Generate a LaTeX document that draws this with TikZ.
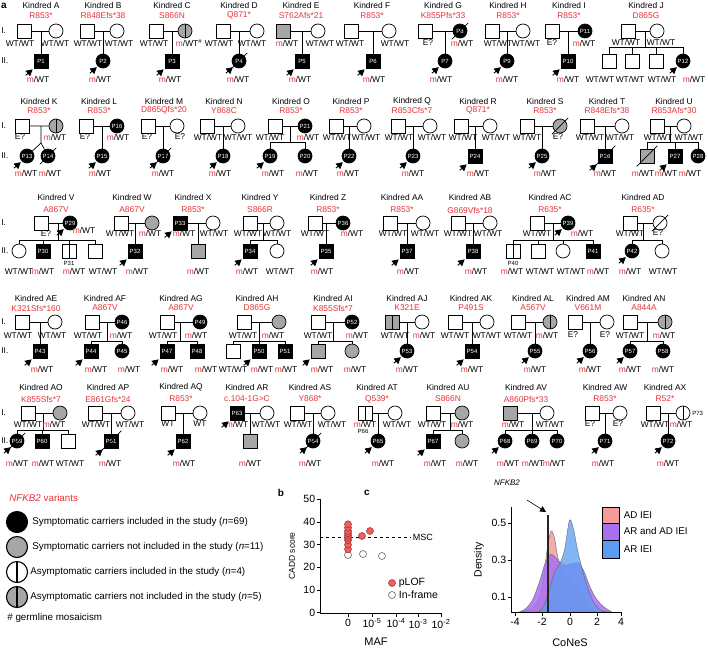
\documentclass[tikz,border=0pt]{standalone}
\usepackage{fontspec}
\setmainfont{Liberation Sans}
\setsansfont{Liberation Sans}
\usetikzlibrary{arrows.meta}
\definecolor{cred}{HTML}{E53238}
\definecolor{cgrey}{HTML}{A6A6A6}
\definecolor{cdot}{HTML}{E8605F}
\definecolor{cpink}{HTML}{F49C9C}
\definecolor{cpurple}{HTML}{A870F0}
\definecolor{cblue}{HTML}{5A9CF2}
\newcommand{\pedfont}{\fontsize{8.4}{9}\selectfont}
\newcommand{\pidfont}{\fontsize{6}{6}\selectfont}
\newcommand{\mwt}{\textcolor{cred}{m}/WT}
\newcounter{gtc}
\newcommand{\gtx}[3]{\stepcounter{gtc}\node[gt] (t\arabic{gtc}) at (#1,#2) {#3};}
\newcommand{\kindred}[3]{\node[kin] (k#1) at (#2,\yk) {Kindred #1}; \node[var] (v#1) at (#2,\yv) {#3};}
\newcommand{\trio}[1]{\draw (#11) -- (#12) (#13) -- (#13 |- #11);}
\newcommand{\sibs}[4]{%
  \coordinate (#10) at (#2,\ys);
  \draw (#11) -- (#12) (#10 |- #11) -- (#10) (#1#3 |- #10) -- (#1#4 |- #10);
  \foreach \ch in {#3,...,#4} \draw (#1\ch) -- (#1\ch |- #10);}
\newcommand{\dead}[1]{\draw ([shift={(-3pt,-3pt)}]#1.south west) -- ([shift={(3pt,3pt)}]#1.north east);}
\newcommand{\proband}[1]{\draw[pb] ([shift={(-8pt,-7pt)}]#1.south west) -- ([shift={(-1pt,-1pt)}]#1.south west);}
\tikzset{
  every picture/.style={line width=0.7pt},
  sq/.style={draw, rectangle, minimum size=14pt, inner sep=0pt, fill=white, font=\pidfont},
  ci/.style={draw, circle, minimum size=14pt, inner sep=0pt, fill=white, font=\pidfont},
  aff/.style={fill=black, text=white},
  ns/.style={fill=cgrey},
  car/.style={path picture={\draw (path picture bounding box.north) -- (path picture bounding box.south);}},
  kin/.style={font=\pedfont, inner sep=0pt},
  var/.style={font=\pedfont, text=cred, inner sep=0pt},
  gt/.style={font=\pedfont, inner sep=0pt},
  tag/.style={font=\pidfont, inner sep=0pt},
  gen/.style={font=\pedfont, inner sep=0pt, anchor=west},
  pb/.style={-{Triangle[length=6.5pt, width=7pt]}, line width=0.9pt},
  panel/.style={font=\fontsize{10}{10}\selectfont\bfseries, inner sep=0pt},
  lgd/.style={draw, circle, minimum size=21pt, inner sep=0pt, line width=1.1pt},
  ltext/.style={font=\fontsize{9.8}{10}\selectfont, anchor=west, inner sep=0pt},
  axis/.style={font=\fontsize{10.5}{11}\selectfont, inner sep=1.5pt},
  pnt/.style={circle, draw=cred!75!black, fill=cdot, minimum size=7pt, inner sep=0pt, line width=0.5pt},
  pnto/.style={circle, draw=black!70, fill=white, minimum size=7pt, inner sep=0pt, line width=0.5pt},
  dens/.style={draw=black!60, line width=0.4pt, fill opacity=0.85},
}

\begin{document}
\begin{tikzpicture}[x=1pt, y=-1pt]
  \useasboundingbox (0,0) rectangle (708,648);
  \node[panel] (pa) at (4,6) {a};

  % row 1
  \def\yk{5}\def\yv{15.5}\def\yI{31}\def\yg{43}\def\ys{47}\def\yII{61}\def\yh{79}
  \node[gen] (r1a) at (1,\yI) {I.};
  \node[gen] (r1b) at (1,\yII) {II.};
  % Kindred A
  \kindred{A}{41}{R853*}
  \node[sq] (A1) at (24,\yI) {};
  \node[ci] (A2) at (56,\yI) {};
  \node[sq, aff] (A3) at (41,\yII) {P1};
  \trio{A}
  \gtx{20}{\yg}{WT/WT} \gtx{55}{\yg}{WT/WT} \gtx{38}{\yh}{\mwt}
  \proband{A3}
  % Kindred B
  \kindred{B}{103}{R848Efs*38}
  \node[sq] (B1) at (87,\yI) {};
  \node[ci] (B2) at (117,\yI) {};
  \node[ci, aff] (B3) at (103,\yII) {P2};
  \trio{B}
  \gtx{88}{\yg}{WT/WT} \gtx{119}{\yg}{WT/WT} \gtx{100}{\yh}{\mwt}
  \proband{B3}
  % Kindred C
  \kindred{C}{172}{S866N}
  \node[sq] (C1) at (156,\yI) {};
  \node[ci, ns, car] (C2) at (185,\yI) {};
  \node[sq, aff] (C3) at (172,\yII) {P3};
  \trio{C}
  \gtx{154}{\yg}{WT/WT} \gtx{189}{\yg}{\mwt\textsuperscript{\#}} \gtx{170}{\yh}{\mwt}
  \proband{C3}
  % Kindred D
  \kindred{D}{239}{Q871*}
  \node[sq] (D1) at (223,\yI) {};
  \node[ci] (D2) at (257,\yI) {};
  \node[ci, aff] (D3) at (239,\yII) {P4};
  \trio{D}
  \dead{D3}
  \gtx{219}{\yg}{WT/WT} \gtx{252}{\yg}{WT/WT} \gtx{238}{\yh}{\mwt}
  \proband{D3}
  % Kindred E
  \kindred{E}{301}{S762Afs*21}
  \node[sq, ns] (E1) at (283,\yI) {};
  \node[ci] (E2) at (318,\yI) {};
  \node[sq, aff] (E3) at (302,\yII) {P5};
  \trio{E}
  \gtx{287}{\yg}{\mwt} \gtx{320}{\yg}{WT/WT} \gtx{300}{\yh}{\mwt}
  \proband{E3}
  % Kindred F
  \kindred{F}{372}{R853*}
  \node[sq] (F1) at (351,\yI) {};
  \node[ci] (F2) at (389,\yI) {};
  \node[sq, aff] (F3) at (373,\yII) {P6};
  \trio{F}
  \gtx{350}{\yg}{WT/WT} \gtx{395}{\yg}{WT/WT} \gtx{374}{\yh}{\mwt}
  \proband{F3}
  % Kindred G
  \kindred{G}{443}{K855Pfs*33}
  \node[sq] (G1) at (425,\yI) {};
  \node[ci, aff] (G2) at (460,\yI) {P8};
  \node[ci, aff] (G3) at (445,\yII) {P7};
  \trio{G}
  \dead{G2}
  \gtx{428}{\yg}{E?} \gtx{462}{\yg}{\mwt} \gtx{441}{\yh}{\mwt}
  \proband{G3}
  % Kindred H
  \kindred{H}{508}{R853*}
  \node[sq] (H1) at (492,\yI) {};
  \node[ci] (H2) at (523,\yI) {};
  \node[ci, aff] (H3) at (507,\yII) {P9};
  \trio{H}
  \gtx{498}{\yg}{WT/WT} \gtx{526}{\yg}{WT/WT} \gtx{507}{\yh}{\mwt}
  \proband{H3}
  % Kindred I
  \kindred{I}{569}{R853*}
  \node[sq] (I1) at (552,\yI) {};
  \node[ci, aff] (I2) at (585,\yI) {P11};
  \node[sq, aff] (I3) at (568,\yII) {P10};
  \trio{I}
  \gtx{552}{\yg}{E?} \gtx{584}{\yg}{\mwt} \gtx{568}{\yh}{\mwt}
  \proband{I3}
  % Kindred J
  \kindred{J}{646}{D865G}
  \node[sq] (J1) at (628,\yI) {};
  \node[ci] (J2) at (657,\yI) {};
  \node[sq] (J3) at (609,\yII) {};
  \node[sq] (J4) at (632,\yII) {};
  \node[sq] (J5) at (656,\yII) {};
  \node[ci, aff] (J6) at (683,\yII) {P12};
  \sibs{J}{645}{3}{6}
  \gtx{626}{\yg-1}{WT/WT} \gtx{661}{\yg-1}{WT/WT}
  \gtx{600}{\yh}{WT/WT} \gtx{630}{\yh}{WT/WT} \gtx{662}{\yh}{WT/WT} \gtx{694}{\yh}{\mwt}
  \proband{J6}

  % row 2
  \def\yk{101}\def\yv{110.5}\def\yI{126}\def\yg{137}\def\ys{142}\def\yII{156}\def\yh{173}
  \node[gen] (r2a) at (1,\yI) {I.};
  \node[gen] (r2b) at (1,\yII) {II.};
  % Kindred K
  \kindred{K}{39}{R853*}
  \node[sq] (K1) at (22,\yI) {};
  \node[ci, ns, car] (K2) at (56,\yI) {};
  \node[ci, aff] (K3) at (27,\yII) {P13};
  \node[ci, aff] (K4) at (48,\yII) {P14};
  \coordinate (K0) at (41,143);
  \draw (K1) -- (K2) (K0 |- K1) -- (K0) -- (K3) (K0) -- (K4);
  \dead{K4}
  \gtx{20}{\yg}{E?} \gtx{55}{\yg}{\mwt} \gtx{26}{\yh}{\mwt} \gtx{50}{\yh}{\mwt}
  \proband{K3}
  % Kindred L
  \kindred{L}{99}{R853*}
  \node[sq] (L1) at (86,\yI) {};
  \node[ci, aff] (L2) at (117,\yI) {P16};
  \node[ci, aff] (L3) at (102,\yII) {P15};
  \trio{L}
  \gtx{85}{\yg}{E?} \gtx{118}{\yg}{\mwt} \gtx{100}{\yh}{\mwt}
  \proband{L3}
  % Kindred M
  \kindred{M}{164}{D865Qfs*20}
  \node[sq] (M1) at (148,\yI) {};
  \node[ci] (M2) at (177,\yI) {};
  \node[ci, aff] (M3) at (163,\yII) {P17};
  \trio{M}
  \dead{M3}
  \gtx{147}{\yg}{E?} \gtx{180}{\yg}{E?} \gtx{163}{\yh}{\mwt}
  \proband{M3}
  % Kindred N
  \kindred{N}{224}{Y868C}
  \node[sq] (N1) at (207,\yI) {};
  \node[ci] (N2) at (238,\yI) {};
  \node[ci, aff] (N3) at (223,\yII) {P18};
  \trio{N}
  \gtx{208}{\yg}{WT/WT} \gtx{238}{\yg}{WT/WT} \gtx{220}{\yh}{\mwt}
  \proband{N3}
  % Kindred O
  \kindred{O}{291}{R853*}
  \node[sq] (O1) at (275,\yI) {};
  \node[ci, aff] (O2) at (305,\yI) {P21};
  \node[ci, aff] (O3) at (270,\yII) {P19};
  \node[ci, aff] (O4) at (305,\yII) {P20};
  \sibs{O}{290}{3}{4}
  \gtx{270}{\yg}{WT/WT} \gtx{308}{\yg}{\mwt} \gtx{273}{\yh}{\mwt} \gtx{307}{\yh}{\mwt}
  \proband{O3}
  % Kindred P
  \kindred{P}{351}{R853*}
  \node[sq] (P1) at (336,\yI) {};
  \node[ci] (P2) at (364,\yI) {};
  \node[ci, aff] (P3) at (349,\yII) {P22};
  \trio{P}
  \gtx{337}{\yg}{WT/WT} \gtx{366}{\yg}{WT/WT} \gtx{348}{\yh}{\mwt}
  \proband{P3}
  % Kindred Q
  \kindred{Q}{412}{R853Cfs*7}
  \node[sq] (Q1) at (398,\yI) {};
  \node[ci] (Q2) at (430,\yI) {};
  \node[ci, aff] (Q3) at (413,\yII) {P23};
  \trio{Q}
  \gtx{399}{\yg}{WT/WT} \gtx{432}{\yg}{WT/WT} \gtx{413}{\yh}{\mwt}
  \proband{Q3}
  % Kindred R
  \kindred{R}{478}{Q871*}
  \node[sq] (R1) at (461,\yI) {};
  \node[ci] (R2) at (490,\yI) {};
  \node[sq, aff] (R3) at (475,\yII) {P24};
  \trio{R}
  \gtx{463}{\yg}{WT/WT} \gtx{496}{\yg}{WT/WT} \gtx{478}{\yh}{\mwt}
  \proband{R3}
  % Kindred S
  \kindred{S}{545}{R853*}
  \node[sq] (S1) at (527,\yI) {};
  \node[ci, ns] (S2) at (560,\yI) {};
  \node[ci, aff] (S3) at (542,\yII) {P25};
  \trio{S}
  \dead{S2}
  \gtx{527}{\yg}{WT/WT} \gtx{558}{\yg}{E?} \gtx{545}{\yh}{\mwt}
  \proband{S3}
  % Kindred T
  \kindred{T}{607}{R848Efs*38}
  \node[sq] (T1) at (587,\yI) {};
  \node[ci] (T2) at (622,\yI) {};
  \node[sq, aff] (T3) at (605,\yII) {P26};
  \trio{T}
  \dead{T3}
  \gtx{590}{\yg}{WT/WT} \gtx{620}{\yg}{WT/WT} \gtx{605}{\yh}{\mwt}
  \proband{T3}
  % Kindred U
  \kindred{U}{674}{R853Afs*30}
  \node[sq] (U1) at (657,\yI) {};
  \node[ci] (U2) at (684,\yI) {};
  \node[sq, ns] (U3) at (647,\yII) {};
  \node[sq, aff] (U4) at (675,\yII) {P27};
  \node[ci, aff] (U5) at (698,\yII) {P28};
  \sibs{U}{670}{3}{5}
  \dead{U3}
  \gtx{658}{\yg}{WT/WT} \gtx{689}{\yg}{WT/WT}
  \gtx{643}{\yh}{\mwt} \gtx{666}{\yh}{\mwt} \gtx{690}{\yh}{\mwt}
  \proband{U4}

  % row 3
  \def\yk{197}\def\yv{210}\def\yI{223}\def\yg{233}\def\ys{240}\def\yII{251}\def\yh{271}
  \node[gen] (r3a) at (1,\yI) {I.};
  \node[gen] (r3b) at (1,\yII) {II.};
  % Kindred V
  \kindred{V}{56}{A867V}
  \node[sq] (V1) at (41,\yI) {};
  \node[ci, aff] (V2) at (70,\yI) {P29};
  \node[ci] (V3) at (19,\yII) {};
  \node[sq, aff] (V4) at (43,\yII) {P30};
  \node[sq, car] (V5) at (69,\yII) {};
  \node[sq] (V6) at (95,\yII) {};
  \sibs{V}{58}{3}{6}
  \node[tag] (V7) at (69,263) {P31};
  \gtx{46}{\yg+1}{E?} \gtx{84}{\yg-3}{\mwt}
  \gtx{19}{\yh}{WT/WT} \gtx{43}{\yh}{\mwt} \gtx{74}{\yh}{\mwt} \gtx{103}{\yh}{WT/WT}
  \proband{V2}
  % Kindred W
  \kindred{W}{132}{A867V}
  \node[sq] (W1) at (121,\yI) {};
  \node[ci, ns] (W2) at (152,\yI) {};
  \node[sq, aff] (W3) at (135,\yII) {P32};
  \trio{W}
  \gtx{120}{\yg}{WT/WT} \gtx{150}{\yg}{\mwt} \gtx{137}{\yh}{\mwt}
  \proband{W3}
  % Kindred X
  \kindred{X}{193}{R853*}
  \node[sq, aff] (X1) at (180,\yI) {P33};
  \node[ci] (X2) at (213,\yI) {};
  \node[sq, ns] (X3) at (198,\yII) {};
  \trio{X}
  \gtx{184}{\yg}{\mwt} \gtx{214}{\yg}{WT/WT} \gtx{198}{\yh}{\mwt}
  \proband{X1}
  % Kindred Y
  \kindred{Y}{260}{S866R}
  \node[sq] (Y1) at (250,\yI) {};
  \node[ci] (Y2) at (277,\yI) {};
  \node[sq, aff] (Y3) at (250,\yII) {P34};
  \node[ci] (Y4) at (277,\yII) {};
  \sibs{Y}{263}{3}{4}
  \gtx{248}{\yg}{WT/WT} \gtx{277}{\yg}{WT/WT} \gtx{247}{\yh}{\mwt} \gtx{280}{\yh}{WT/WT}
  \proband{Y3}
  % Kindred Z
  \kindred{Z}{328}{R853*}
  \node[sq] (Z1) at (315,\yI) {};
  \node[ci, aff] (Z2) at (343,\yI) {P36};
  \node[sq, aff] (Z3) at (326,\yII) {P35};
  \trio{Z}
  \gtx{315}{\yg}{WT/WT} \gtx{352}{\yg}{\mwt} \gtx{322}{\yh}{\mwt}
  \proband{Z3}
  % Kindred AA
  \kindred{AA}{402}{R853*}
  \node[sq] (AA1) at (390,\yI) {};
  \node[ci] (AA2) at (423,\yI) {};
  \node[sq, aff] (AA3) at (407,\yII) {P37};
  \trio{AA}
  \gtx{393}{\yg}{WT/WT} \gtx{425}{\yg}{WT/WT} \gtx{408}{\yh}{\mwt}
  \proband{AA3}
  % Kindred AB
  \kindred{AB}{470}{G869Vfs*18}
  \node[sq] (AB1) at (458,\yI) {};
  \node[ci] (AB2) at (490,\yI) {};
  \node[sq, aff] (AB3) at (473,\yII) {P38};
  \trio{AB}
  \gtx{458}{\yg}{WT/WT} \gtx{488}{\yg}{WT/WT} \gtx{476}{\yh}{\mwt}
  \proband{AB3}
  % Kindred AC
  \kindred{AC}{550}{R635*}
  \node[sq] (AC1) at (537,\yI) {};
  \node[ci, aff] (AC2) at (568,\yI) {P39};
  \node[sq, car] (AC3) at (513,\yII) {};
  \node[sq] (AC4) at (538,\yII) {};
  \node[ci] (AC5) at (563,\yII) {};
  \node[sq, aff] (AC6) at (593,\yII) {P41};
  \sibs{AC}{553}{3}{6}
  \node[tag] (AC7) at (513,263) {P40};
  \gtx{537}{\yg}{WT/WT} \gtx{582}{\yg}{\mwt}
  \gtx{512}{\yh}{\mwt} \gtx{540}{\yh}{WT/WT} \gtx{571}{\yh}{WT/WT} \gtx{598}{\yh}{\mwt}
  \proband{AC2}
  % Kindred AD
  \kindred{AD}{643}{R635*}
  \node[sq] (AD1) at (630,\yI) {};
  \node[ci] (AD2) at (660,\yI) {};
  \node[ci, aff] (AD3) at (632,\yII) {P42};
  \node[ci] (AD4) at (662,\yII) {};
  \sibs{AD}{643}{3}{4}
  \dead{AD2}
  \gtx{630}{\yg}{WT/WT} \gtx{658}{\yg}{E?} \gtx{630}{\yh}{\mwt} \gtx{663}{\yh}{WT/WT}
  \proband{AD3}

  % row 4
  \def\yk{298}\def\yv{308}\def\yI{322}\def\yg{335}\def\ys{341}\def\yII{351}\def\yh{369}
  \node[gen] (r4a) at (1,\yI) {I.};
  \node[gen] (r4b) at (1,\yII) {II.};
  % Kindred AE
  \kindred{AE}{36}{K321Sfs*160}
  \node[sq] (AE1) at (22,\yI) {};
  \node[ci] (AE2) at (55,\yI) {};
  \node[sq, aff] (AE3) at (40,\yII) {P43};
  \trio{AE}
  \gtx{18}{\yg}{WT/WT} \gtx{52}{\yg}{WT/WT} \gtx{42}{\yh}{\mwt}
  \proband{AE3}
  % Kindred AF
  \kindred{AF}{105}{A867V}
  \node[sq] (AF1) at (92,\yI) {};
  \node[ci, aff] (AF2) at (122,\yI) {P46};
  \node[sq, aff] (AF3) at (91,\yII) {P44};
  \node[ci, aff] (AF4) at (122,\yII) {P45};
  \sibs{AF}{107}{3}{4}
  \gtx{88}{\yg}{WT/WT} \gtx{121}{\yg}{\mwt} \gtx{96}{\yh}{\mwt} \gtx{129}{\yh}{\mwt}
  \proband{AF3}
  % Kindred AG
  \kindred{AG}{181}{A867V}
  \node[sq] (AG1) at (167,\yI) {};
  \node[ci, aff] (AG2) at (200,\yI) {P49};
  \node[sq, aff] (AG3) at (167,\yII) {P47};
  \node[sq, aff] (AG4) at (197,\yII) {P48};
  \sibs{AG}{180}{3}{4}
  \gtx{163}{\yg}{WT/WT} \gtx{196}{\yg}{\mwt} \gtx{172}{\yh}{\mwt} \gtx{206}{\yh}{\mwt}
  \proband{AG3}
  % Kindred AH
  \kindred{AH}{257}{D865G}
  \node[sq] (AH1) at (244,\yI) {};
  \node[ci, ns] (AH2) at (279,\yI) {};
  \node[sq] (AH3) at (233,\yII) {};
  \node[sq, aff] (AH4) at (259,\yII) {P50};
  \node[sq, aff] (AH5) at (285,\yII) {P51};
  \sibs{AH}{259}{3}{5}
  \gtx{243}{\yg}{WT/WT} \gtx{273}{\yg}{\mwt}
  \gtx{233}{\yh}{WT/WT} \gtx{262}{\yh}{\mwt} \gtx{286}{\yh}{\mwt}
  \proband{AH4}
  % Kindred AI
  \kindred{AI}{333}{K855Sfs*7}
  \node[sq] (AI1) at (318,\yI) {};
  \node[ci, aff] (AI2) at (352,\yI) {P52};
  \node[sq, ns] (AI3) at (318,\yII) {};
  \node[ci, ns] (AI4) at (352,\yII) {};
  \sibs{AI}{333}{3}{4}
  \gtx{318}{\yg}{WT/WT} \gtx{357}{\yg}{\mwt} \gtx{322}{\yh}{\mwt} \gtx{355}{\yh}{\mwt}
  \proband{AI3}
  % Kindred AJ
  \kindred{AJ}{407}{K321E}
  \node[sq, ns, car] (AJ1) at (392,\yI) {};
  \node[ci] (AJ2) at (422,\yI) {};
  \node[ci, aff] (AJ3) at (407,\yII) {P53};
  \trio{AJ}
  \gtx{395}{\yg}{WT/WT} \gtx{424}{\yg}{\mwt} \gtx{407}{\yh}{\mwt}
  \proband{AJ3}
  % Kindred AK
  \kindred{AK}{471}{P491S}
  \node[sq] (AK1) at (455,\yI) {};
  \node[ci] (AK2) at (487,\yI) {};
  \node[sq, aff] (AK3) at (472,\yII) {P54};
  \trio{AK}
  \gtx{455}{\yg}{WT/WT} \gtx{487}{\yg}{WT/WT} \gtx{472}{\yh}{\mwt}
  \proband{AK3}
  % Kindred AL
  \kindred{AL}{533}{A567V}
  \node[sq] (AL1) at (518,\yI) {};
  \node[ci, ns, car] (AL2) at (550,\yI) {};
  \node[ci, aff] (AL3) at (535,\yII) {P55};
  \trio{AL}
  \gtx{518}{\yg}{WT/WT} \gtx{547}{\yg}{\mwt} \gtx{535}{\yh}{\mwt}
  \proband{AL3}
  % Kindred AM
  \kindred{AM}{588}{V661M}
  \node[sq] (AM1) at (575,\yI) {};
  \node[ci] (AM2) at (607,\yI) {};
  \node[ci, aff] (AM3) at (590,\yII) {P56};
  \trio{AM}
  \gtx{573}{\yg}{E?} \gtx{605}{\yg}{E?} \gtx{590}{\yh}{\mwt}
  \proband{AM3}
  % Kindred AN
  \kindred{AN}{644}{A844A}
  \node[sq] (AN1) at (630,\yI) {};
  \node[ci, ns, car] (AN2) at (665,\yI) {};
  \node[ci, aff] (AN3) at (630,\yII) {P57};
  \node[ci, aff] (AN4) at (663,\yII) {P58};
  \sibs{AN}{647}{3}{4}
  \gtx{630}{\yg}{WT/WT} \gtx{664}{\yg}{\mwt} \gtx{630}{\yh}{\mwt} \gtx{663}{\yh}{\mwt}
  \proband{AN3}

  % row 5
  \def\yk{387}\def\yv{399}\def\yI{413}\def\yg{424}\def\ys{430}\def\yII{441}\def\yh{463}
  \node[gen] (r5a) at (1,\yI) {I.};
  \node[gen] (r5b) at (1,\yII) {II.};
  % Kindred AO
  \kindred{AO}{41}{K855Sfs*7}
  \node[sq] (AO1) at (28,\yI) {};
  \node[ci, ns] (AO2) at (60,\yI) {};
  \node[ci, aff] (AO3) at (17,\yII) {P59};
  \node[sq, aff] (AO4) at (42,\yII) {P60};
  \node[sq] (AO5) at (68,\yII) {};
  \sibs{AO}{43}{3}{5}
  \dead{AO3}
  \gtx{28}{\yg}{WT/WT} \gtx{54}{\yg}{\mwt}
  \gtx{17}{\yh}{\mwt} \gtx{43}{\yh}{\mwt} \gtx{70}{\yh}{WT/WT}
  \proband{AO3}
  % Kindred AP
  \kindred{AP}{108}{E861Gfs*24}
  \node[sq] (AP1) at (95,\yI) {};
  \node[ci] (AP2) at (128,\yI) {};
  \node[sq, aff] (AP3) at (111,\yII) {P61};
  \trio{AP}
  \dead{AP3}
  \gtx{96}{\yg}{WT/WT} \gtx{130}{\yg}{WT/WT} \gtx{110}{\yh}{\mwt}
  \proband{AP3}
  % Kindred AQ
  \kindred{AQ}{181}{R853*}
  \node[sq] (AQ1) at (168,\yI) {};
  \node[ci] (AQ2) at (200,\yI) {};
  \node[sq, aff] (AQ3) at (183,\yII) {P62};
  \trio{AQ}
  \gtx{168}{\yg}{WT} \gtx{200}{\yg}{WT} \gtx{184}{\yh}{\mwt}
  \proband{AQ3}
  % Kindred AR
  \kindred{AR}{247}{c.104-1G>C}
  \node[sq, aff] (AR1) at (237,\yI) {P63};
  \node[ci] (AR2) at (267,\yI) {};
  \node[sq, ns] (AR3) at (250,\yII) {};
  \trio{AR}
  \gtx{237}{\yg}{\mwt} \gtx{266}{\yg}{WT/WT} \gtx{250}{\yh}{\mwt}
  \proband{AR1}
  % Kindred AS
  \kindred{AS}{310}{Y868*}
  \node[sq] (AS1) at (297,\yI) {};
  \node[ci] (AS2) at (328,\yI) {};
  \node[ci, aff] (AS3) at (313,\yII) {P64};
  \trio{AS}
  \dead{AS3}
  \gtx{298}{\yg}{WT/WT} \gtx{332}{\yg}{WT/WT} \gtx{310}{\yh}{\mwt}
  \proband{AS3}
  % Kindred AT
  \kindred{AT}{377}{Q539*}
  \node[sq, car] (AT1) at (365,\yI) {};
  \node[ci] (AT2) at (395,\yI) {};
  \node[ci, aff] (AT3) at (378,\yII) {P65};
  \trio{AT}
  \node[tag] (AT4) at (363,431) {P66};
  \gtx{365}{\yg}{\mwt} \gtx{397}{\yg}{WT/WT} \gtx{383}{\yh}{\mwt}
  \proband{AT3}
  % Kindred AU
  \kindred{AU}{448}{S866N}
  \node[sq] (AU1) at (433,\yI) {};
  \node[ci, ns] (AU2) at (462,\yI) {};
  \node[sq, aff] (AU3) at (433,\yII) {P67};
  \node[ci, ns] (AU4) at (462,\yII) {};
  \sibs{AU}{450}{3}{4}
  \gtx{432}{\yg}{WT/WT} \gtx{462}{\yg}{\mwt} \gtx{435}{\yh}{\mwt} \gtx{467}{\yh}{\mwt}
  \proband{AU3}
  % Kindred AV
  \kindred{AV}{526}{A860Pfs*33}
  \node[sq, ns] (AV1) at (510,\yI) {};
  \node[ci] (AV2) at (547,\yI) {};
  \node[ci, aff] (AV3) at (505,\yII) {P68};
  \node[ci, aff] (AV4) at (532,\yII) {P69};
  \node[ci, aff] (AV5) at (557,\yII) {P70};
  \sibs{AV}{532}{3}{5}
  \gtx{513}{\yg}{\mwt} \gtx{550}{\yg}{WT/WT}
  \gtx{508}{\yh}{\mwt} \gtx{533}{\yh}{\mwt} \gtx{554}{\yh}{\mwt}
  \proband{AV3}
  % Kindred AW
  \kindred{AW}{605}{R853*}
  \node[sq] (AW1) at (592,\yI) {};
  \node[ci] (AW2) at (620,\yI) {};
  \node[ci, aff] (AW3) at (605,\yII) {P71};
  \trio{AW}
  \gtx{590}{\yg}{E?} \gtx{618}{\yg}{E?} \gtx{603}{\yh}{\mwt}
  \proband{AW3}
  % Kindred AX
  \kindred{AX}{665}{R52*}
  \node[sq] (AX1) at (653,\yI) {};
  \node[ci, car] (AX2) at (683,\yI) {};
  \node[ci, aff] (AX3) at (668,\yII) {P72};
  \trio{AX}
  \node[tag, anchor=west] (AX4) at (692,\yI) {P73};
  \gtx{655}{\yg}{WT/WT} \gtx{681}{\yg}{\mwt} \gtx{668}{\yh}{\mwt}
  \proband{AX3}

  % legend
  \node[ltext, text=cred] (lg0) at (9,498) {\textit{NFKB2} variants};
  \node[lgd, fill=black] (lg1) at (17,522) {};
  \node[lgd, fill=cgrey] (lg2) at (17,547) {};
  \node[lgd, fill=white, car] (lg3) at (17,572) {};
  \node[lgd, fill=cgrey, car] (lg4) at (17,597) {};
  \node[ltext] (lt1) at (32,522) {Symptomatic carriers included in the study (\textit{n}=69)};
  \node[ltext] (lt2) at (32,547) {Symptomatic carriers not included in the study (\textit{n}=11)};
  \node[ltext] (lt3) at (30,572) {Asymptomatic carriers included in the study (\textit{n}=4)};
  \node[ltext] (lt4) at (30,597) {Asymptomatic carriers not included in the study (\textit{n}=5)};
  \node[ltext] (lt5) at (7,618) {\# germline mosaicism};

  % b
  \node[panel] (pb) at (281,493) {b};
  \draw[line width=0.8pt] (320,499) -- (320,613) -- (441,613);
  \foreach \v in {0,10,...,50}
    \draw[line width=0.8pt] (320,{612.7-2.268*\v}) -- ++(-3,0) node[axis, anchor=east] (yb\v) {\v};
  \draw[line width=0.8pt] (348,613) -- ++(0,4) node[axis, anchor=north] (xb0) {0};
  \foreach \x/\e in {372/-5, 396/-4, 418/-3, 441/-2}
    \draw[line width=0.8pt] (\x,613) -- ++(0,4) node[axis, anchor=north] (xb\x) {10\textsuperscript{\e}};
  \node[axis, font=\fontsize{11}{11}\selectfont] (lmaf) at (376,642) {MAF};
  \node[axis, font=\fontsize{8.5}{9}\selectfont, rotate=90] (lcadd) at (292,556) {CADD score};
  \draw[dashed, line width=0.6pt] (320,537) -- (411,537) node[axis, anchor=west, font=\fontsize{9}{9}\selectfont] (lmsc) {MSC};
  \node[pnto] (o1) at (348,555) {};
  \node[pnto] (o2) at (363,554) {};
  \node[pnto] (o3) at (382,556) {};
  \foreach \v [count=\i] in {28,30,32,33,34,35,36,37.5,39}
    \node[pnt] (d\i) at (348,{612.7-2.268*\v}) {};
  \node[pnt] (d10) at (362,536) {};
  \node[pnt] (d11) at (370,531) {};
  \node[pnt] (lp1) at (392,583) {};
  \node[pnto] (lp2) at (392,595) {};
  \node[axis, anchor=west] (lpt1) at (397,583) {pLOF};
  \node[axis, anchor=west] (lpt2) at (397,595) {In-frame};

  % c
  \node[panel] (pc) at (367,493) {c};
  \begin{scope}[shift={(569.5,612)}, x=13.6pt, y=180pt]
    \filldraw[dens, fill=cpink] plot[smooth] coordinates {(-3.6,0) (-3,0.01) (-2.6,0.03) (-2.2,0.08) (-1.9,0.2) (-1.6,0.37) (-1.35,0.45) (-1.1,0.41) (-0.85,0.3) (-0.5,0.22) (-0.1,0.19) (0.3,0.16) (0.7,0.11) (1.1,0.06) (1.5,0.02) (2,0)} -- cycle;
    \filldraw[dens, fill=cpurple] plot[smooth] coordinates {(-3.7,0) (-3.2,0.02) (-2.7,0.07) (-2.2,0.17) (-1.8,0.27) (-1.4,0.32) (-1,0.3) (-0.6,0.27) (-0.2,0.26) (0.3,0.27) (0.7,0.27) (1.1,0.22) (1.5,0.14) (2,0.07) (2.5,0.03) (3.1,0)} -- cycle;
    \filldraw[dens, fill=cblue, fill opacity=0.75] plot[smooth] coordinates {(-2.3,0) (-1.9,0.03) (-1.5,0.12) (-1.1,0.22) (-0.7,0.27) (-0.35,0.35) (0,0.51) (0.3,0.46) (0.6,0.34) (1,0.22) (1.4,0.12) (1.8,0.05) (2.3,0.01) (2.8,0)} -- cycle;
  \end{scope}
  \draw[line width=0.8pt] (511,507) -- (511,612) -- (622,612);
  \foreach \x/\t in {515/-4, 542/-2, 570/0, 597/2, 621/4}
    \draw[line width=0.8pt] (\x,612) -- ++(0,4) node[axis, anchor=north] (xc\x) {\t};
  \foreach \y/\t in {523/0.5, 560/0.3, 597/0.1}
    \draw[line width=0.8pt] (511,\y) -- ++(-3,0) node[axis, anchor=east] (yc\y) {\t};
  \node[axis, font=\fontsize{11}{11}\selectfont] (lcon) at (570,643) {CoNeS};
  \node[axis, font=\fontsize{10.5}{11}\selectfont, rotate=90] (lden) at (479,560) {Density};
  \node[inner sep=0pt, font=\fontsize{8}{8}\selectfont\itshape] (nf) at (507,483) {NFKB2};
  \coordinate (nf0) at (527,500);
  \coordinate (nf1) at (546,512);
  \draw[-{Triangle[length=6pt, width=6pt]}, line width=0.6pt] (nf0) -- (nf1);
  \draw[line width=1.4pt, black!85] (548,515) -- (548,612);
  \draw[line width=0.6pt, fill=cpink] (602,507) rectangle (619,523);
  \draw[line width=0.6pt, fill=cpurple] (602,523) rectangle (619,540);
  \draw[line width=0.6pt, fill=cblue] (602,540) rectangle (619,558);
  \node[axis, anchor=west, font=\fontsize{9.8}{10}\selectfont] (lc1) at (622,515) {AD IEI};
  \node[axis, anchor=west, font=\fontsize{9.8}{10}\selectfont] (lc2) at (622,531) {AR and AD IEI};
  \node[axis, anchor=west, font=\fontsize{9.8}{10}\selectfont] (lc3) at (622,549) {AR IEI};
\end{tikzpicture}
\end{document}
